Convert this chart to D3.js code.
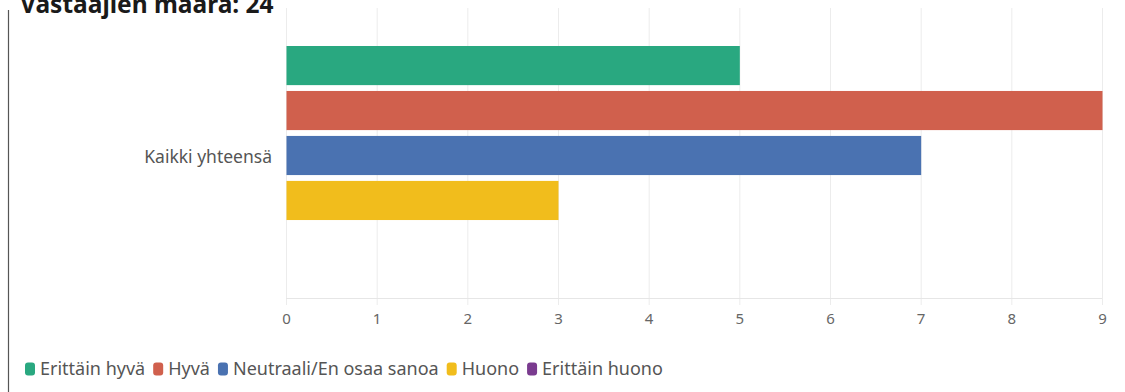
<!DOCTYPE html>
<html>
<head>
<meta charset="utf-8">
<script src="https://cdn.jsdelivr.net/npm/d3@7"></script>
<style>
  html, body { margin: 0; padding: 0; background: #fff; }
  svg { display: block; font-family: "Noto Sans", sans-serif; }
</style>
</head>
<body>
<div id="chart"></div>
<script>
// data
const title = "Vastaajien määrä: 24";
const categories = ["Kaikki yhteensä"];
const seriesNames = ["Erittäin hyvä", "Hyvä", "Neutraali/En osaa sanoa", "Huono", "Erittäin huono"];
const seriesValues = [5, 9, 7, 3, 0];
const seriesColors = ["#29a880", "#d0604d", "#4a72b1", "#f1bd1c", "#7a3b8f"];
const xTicks = [0, 1, 2, 3, 4, 5, 6, 7, 8, 9];

const WIDTH = 1125, HEIGHT = 392;
const svg = d3.select("#chart").append("svg")
  .attr("width", WIDTH).attr("height", HEIGHT);

// scales
const x = d3.scaleLinear().domain([0, 9]).range([286, 1102]);
const y0 = d3.scaleBand().domain(categories).range([46, 265]);
const y1 = d3.scaleBand().domain(seriesNames).range([0, y0.bandwidth()]).paddingInner(0.13);
const color = d3.scaleOrdinal().domain(seriesNames).range(seriesColors);

const plotTop = 8, axisY = 298;

// left frame line
svg.append("line")
  .attr("x1", 8.5).attr("x2", 8.5).attr("y1", 10).attr("y2", HEIGHT)
  .attr("stroke", "#555").attr("stroke-width", 1.2);

// gridlines
svg.append("g").selectAll("line").data(xTicks).join("line")
  .attr("x1", d => x(d) + 0.5).attr("x2", d => x(d) + 0.5)
  .attr("y1", plotTop).attr("y2", axisY + 7)
  .attr("stroke", "#ececec").attr("stroke-width", 1);

// axis baseline
svg.append("line")
  .attr("x1", x(0)).attr("x2", x(9)).attr("y1", axisY + 0.5).attr("y2", axisY + 0.5)
  .attr("stroke", "#e6e6e6");

// x tick labels
const gx = svg.append("g").attr("transform", `translate(0,${axisY})`)
  .call(d3.axisBottom(x).tickValues(xTicks).tickSize(0).tickPadding(15).tickFormat(d3.format("d")));
gx.select(".domain").remove();
gx.selectAll("text").attr("fill", "#666").style("font-size", "15px")
  .style("font-family", '"Noto Sans", sans-serif');

// bars
const rows = seriesNames.map((s, i) => ({ name: s, value: seriesValues[i] }));
const catG = svg.append("g").selectAll("g").data(categories).join("g")
  .attr("transform", d => `translate(0,${y0(d)})`);
catG.selectAll("rect").data(rows).join("rect")
  .attr("x", x(0) + 0.5)
  .attr("y", d => y1(d.name))
  .attr("width", d => Math.max(0, x(d.value) - x(0)))
  .attr("height", y1.bandwidth())
  .attr("fill", d => color(d.name));

// category label
svg.append("g").selectAll("text").data(categories).join("text")
  .attr("x", 272)
  .attr("y", d => y0(d) + y0.bandwidth() / 2 + 1)
  .attr("dy", "0.35em")
  .attr("text-anchor", "end")
  .attr("fill", "#555")
  .style("font-size", "17.5px")
  .text(d => d);

// title (cut at the top edge, as in the source)
svg.append("text")
  .attr("x", 20).attr("y", 13)
  .attr("fill", "#1a1a1a")
  .style("font-size", "24.5px")
  .style("font-weight", "bold")
  .text(title);

// legend
const legend = svg.append("g").attr("transform", "translate(25,369)");
let lx = 0;
seriesNames.forEach(name => {
  const item = legend.append("g").attr("transform", `translate(${lx},0)`);
  item.append("rect")
    .attr("x", 0).attr("y", -6.5).attr("width", 10).attr("height", 13)
    .attr("rx", 3).attr("fill", color(name));
  const t = item.append("text")
    .attr("x", 15).attr("y", 0).attr("dy", "0.35em")
    .attr("fill", "#555")
    .style("font-size", "18px")
    .text(name);
  lx += 15 + t.node().getComputedTextLength() + 8;
});
</script>
</body>
</html>
